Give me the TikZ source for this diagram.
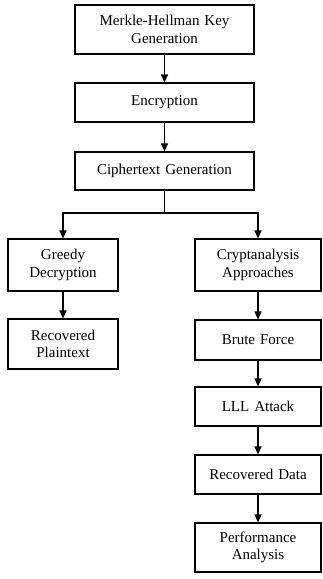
\documentclass[tikz,border=0pt]{standalone}
\usepackage{fontspec}
\setmainfont{Liberation Serif}
\usetikzlibrary{arrows.meta}
\begin{document}
\begin{tikzpicture}[x=1pt,y=-1pt,
  box/.style={draw=black, line width=1.2pt, fill=white, rectangle, align=center, inner sep=2pt,
    font=\fontsize{15}{17.5}\selectfont},
  topbox/.style={box, minimum width=179pt, text width=170pt},
  leftbox/.style={box, minimum width=110pt, text width=104pt},
  rightbox/.style={box, minimum width=126pt, text width=120pt},
  arr/.style={draw=black, line width=1.2pt, -{Triangle[length=8pt,width=7pt]}},
  ln/.style={draw=black, line width=1.2pt}]
\useasboundingbox (0,0) rectangle (322,579);
\node[topbox, minimum height=49pt] (kg) at (164.5,29.5) {Merkle-Hellman Key\\Generation};
\node[topbox, minimum height=39pt] (enc) at (164.5,102.5) {Encryption};
\node[topbox, minimum height=38pt] (ct) at (164.5,171) {Ciphertext Generation};
\node[leftbox, minimum height=52pt] (gd) at (63,265) {Greedy\\Decryption};
\node[leftbox, minimum height=50pt] (rp) at (63,344) {Recovered\\Plaintext};
\node[rightbox, minimum height=52pt] (ca) at (258,265) {Cryptanalysis\\Approaches};
\node[rightbox, minimum height=40pt] (bf) at (258,340) {Brute Force};
\node[rightbox, minimum height=39pt] (lll) at (258,406.5) {LLL Attack};
\node[rightbox, minimum height=39pt] (rd) at (258,474.5) {Recovered Data};
\node[rightbox, minimum height=49pt] (pa) at (258,547.5) {Performance\\Analysis};
\coordinate (j) at (164.5,213);
\draw[arr] (kg) -- (enc);
\draw[arr] (enc) -- (ct);
\draw[ln] (ct.south) -- (j);
\draw[arr] (j) -| (gd.north);
\draw[arr] (j) -| (ca.north);
\draw[arr] (gd) -- (rp);
\draw[arr] (ca) -- (bf);
\draw[arr] (bf) -- (lll);
\draw[arr] (lll) -- (rd);
\draw[arr] (rd) -- (pa);
\end{tikzpicture}
\end{document}
